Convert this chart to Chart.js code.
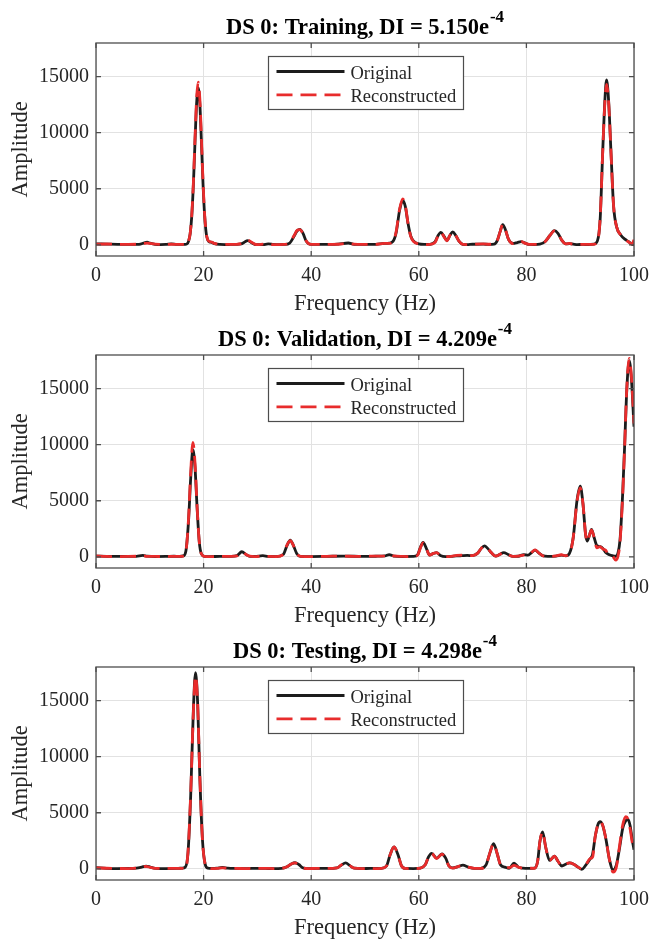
<!DOCTYPE html>
<html>
<head>
<meta charset="utf-8">
<script src="https://cdn.jsdelivr.net/npm/chart.js@4.4.0/dist/chart.umd.min.js"></script>
<style>
  html, body { margin: 0; padding: 0; background: #fff; }
  #wrap { position: relative; width: 650px; height: 941px; overflow: hidden; }
  #wrap canvas { position: absolute; left: 0; }
</style>
</head>
<body>
<div id="wrap">
  <canvas id="dsTrain" width="650" height="317" style="top:0px"></canvas>
  <canvas id="dsVal" width="650" height="317" style="top:312px"></canvas>
  <canvas id="dsTest" width="650" height="317" style="top:624px"></canvas>
</div>
<script>
// axis ticks
const xTicks = [0, 20, 40, 60, 80, 100];
const yTicks = [0, 5000, 10000, 15000];

// panel titles: set name + damage index mantissa (all x 10^-4)
const setNames = ['Training', 'Validation', 'Testing'];
const diValues = ['5.150', '4.209', '4.298'];
const diExponent = '-4';

// training spectrum
const trainFreq = [
  0, 2, 4, 6, 8, 9, 9.5, 10, 11, 12,
  13, 14, 15, 16, 16.5, 16.9, 17.2, 17.5, 17.8, 18.1,
  18.4, 18.7, 19, 19.3, 19.6, 19.9, 20.2, 20.5, 20.8, 21.1,
  21.5, 22, 23, 24, 25, 26, 27, 27.5, 28.2, 29,
  29.5, 30, 31, 32, 33, 34, 35, 36, 36.8, 37.4,
  37.9, 38.5, 39, 39.5, 40, 42, 44, 45, 46.9, 48,
  50, 52, 53.5, 54.5, 55.2, 55.8, 56.4, 57, 57.5, 58,
  58.5, 59, 60, 61, 62, 63, 63.5, 64.1, 64.7, 65.2,
  65.8, 66.3, 66.9, 67.5, 68.2, 69, 70, 72, 73, 74,
  74.6, 75.1, 75.6, 76.1, 76.7, 77.5, 78.3, 79, 79.8, 80.5,
  81.5, 82.5, 83.5, 84.4, 85.2, 85.9, 86.6, 87.3, 88, 88.7,
  89.5, 90.5, 91.5, 92.5, 93.2, 93.7, 94.2, 94.6, 94.9, 95.3,
  95.7, 96.2, 96.8, 97.5, 98.3, 99, 99.6, 100
];
const trainOrig = [
  80, 60, 40, 30, 40, 180, 230, 150, 40, 20,
  30, 80, 40, 30, 40, 80, 310, 970, 2550, 5360,
  9140, 12590, 14000, 12590, 9140, 5360, 2550, 970, 400, 250,
  220, 100, 30, 20, 30, 40, 80, 200, 380, 150,
  40, 20, 10, 80, 40, 20, 30, 150, 750, 1250,
  1380, 1000, 400, 100, 40, 40, 30, 60, 160, 40,
  30, 40, 120, 150, 300, 1100, 3000, 3950, 3400, 1900,
  800, 350, 80, 30, 40, 250, 750, 1100, 750, 380,
  850, 1160, 800, 300, 40, 10, 50, 60, 40, 60,
  400, 1150, 1800, 1350, 450, 120, 200, 280, 150, 30,
  20, 60, 300, 850, 1260, 1000, 400, 80, 100, 60,
  20, 30, 20, 50, 350, 2200, 8500, 13000, 14700, 12700,
  8500, 3500, 1550, 900, 500, 280, 40, 0
];
const trainRecon = [
  60, 70, 40, 40, 60, 120, 150, 120, 60, 40,
  30, 50, 40, 30, 20, -50, 320, 1000, 2640, 5550,
  9470, 13040, 14500, 13040, 9470, 5550, 2640, 1000, 420, 300,
  250, 120, 40, 30, 30, 40, 100, 200, 400, 200,
  60, 10, 50, 90, 20, 20, 30, 200, 800, 1300,
  1350, 950, 400, 100, 40, 40, 40, 50, 120, 60,
  40, 30, 120, 130, 250, 1200, 3100, 4100, 3500, 1900,
  750, 300, 80, 20, 40, 200, 700, 1150, 700, 360,
  850, 1150, 800, 300, 30, 20, 40, 80, 50, 50,
  400, 1150, 1800, 1350, 450, 100, 200, 300, 120, 40,
  30, 60, 300, 850, 1250, 1000, 400, 80, 120, 40,
  40, 30, 30, 40, 300, 2300, 8500, 12800, 14300, 12600,
  8500, 3500, 1550, 900, 500, 250, 60, 450
];

// validation spectrum
const valFreq = [
  0, 2, 4, 6, 7.5, 8.7, 9.5, 11, 13, 14.5,
  15.5, 16.2, 16.7, 17.2, 17.6, 18, 18.4, 18.8, 19.2, 19.6,
  20.2, 21, 23, 25, 26.2, 27.1, 27.9, 28.6, 29.5, 31,
  32, 33.5, 34.8, 35.5, 36.1, 36.7, 37.3, 38, 40, 42,
  44, 46, 48, 50, 52, 53.7, 54.5, 55.3, 57, 59,
  59.8, 60.3, 60.8, 61.4, 62, 62.7, 63.3, 64, 65, 66,
  67, 68, 69, 70, 71, 71.6, 72.2, 72.8, 73.5, 74.3,
  75, 75.8, 76.6, 77.5, 78.5, 79.5, 80.3, 81, 81.6, 82.3,
  83, 84, 85.5, 86.5, 87.3, 88, 88.7, 89.4, 90, 90.5,
  91, 91.3, 91.7, 92.1, 92.6, 93.1, 93.7, 94.2, 94.7, 95.3,
  96, 96.6, 97, 97.4, 97.9, 98.3, 98.6, 99.1, 99.5, 100
];
const valOrig = [
  60, 40, 30, 30, 40, 120, 60, 20, 30, 50,
  40, 80, 500, 3200, 7000, 9550, 8000, 4300, 1300, 250,
  40, 20, 30, 40, 100, 450, 200, 40, 30, 100,
  30, 20, 200, 1000, 1480, 1000, 300, 40, 20, 30,
  50, 60, 50, 30, 50, 80, 200, 60, 20, 30,
  200, 850, 1280, 750, 150, 300, 380, 120, 20, 40,
  80, 100, 120, 100, 350, 750, 980, 750, 350, 60,
  200, 380, 200, 40, 50, 200, 150, 400, 600, 350,
  100, 40, 60, 150, 80, 300, 1700, 5000, 6300, 4800,
  2000, 1400, 1900, 2450, 1700, 1000, 900, 750, 400, 200,
  100, 50, 300, 1500, 5700, 10400, 14300, 17500, 16000, 11600
];
const valRecon = [
  80, 30, 20, 30, 50, 80, 40, 30, 20, 40,
  30, 60, 450, 3400, 7500, 10200, 8400, 4400, 1300, 250,
  40, 20, 30, 40, 80, 420, 200, 50, 20, 60,
  30, 20, 200, 1050, 1450, 1000, 300, 40, 20, 30,
  60, 60, 40, 50, 60, 80, 230, 80, 30, 20,
  150, 800, 1250, 750, 150, 300, 380, 100, 20, 40,
  120, 150, 150, 100, 350, 750, 950, 750, 350, 60,
  200, 380, 200, 40, 60, 150, 100, 400, 620, 350,
  100, 30, 80, 180, 100, 250, 1700, 4900, 6150, 4800,
  2000, 1350, 1900, 2400, 1700, 800, 900, 700, 600, 150,
  50, -300, 0, 1300, 5500, 10300, 14400, 17700, 16200, 11900
];

// testing spectrum
const testFreq = [
  0, 2, 4, 6, 7.5, 8.5, 9.3, 10.1, 11, 13,
  15, 16, 16.6, 17.1, 17.6, 18.1, 18.5, 18.9, 19.3, 19.8,
  20.3, 20.8, 21.5, 22.5, 23.5, 24.5, 26, 28, 30, 31.5,
  33, 34.5, 35.5, 36.3, 37, 37.7, 38.4, 39.5, 41, 43,
  44.8, 45.6, 46.4, 47.2, 48, 49.5, 51, 53, 54, 54.7,
  55.4, 56.1, 56.8, 57.5, 59, 60.3, 61.2, 61.8, 62.4, 63.3,
  64.3, 65, 65.6, 66.3, 67.3, 68.2, 69.2, 70.3, 71.5, 72.5,
  73.2, 73.9, 74.6, 75.2, 76, 76.8, 77.7, 78.5, 79.3, 80.5,
  81.5, 82.1, 82.5, 83, 83.6, 84.3, 85.2, 85.9, 86.6, 87.3,
  88, 88.8, 89.6, 90.3, 91, 91.8, 92.3, 92.8, 93.3, 93.7,
  94.2, 94.8, 95.4, 96.1, 96.7, 97.3, 97.9, 98.5, 98.9, 99.3,
  99.7, 100
];
const testOrig = [
  100, 40, 20, 30, 60, 150, 240, 150, 40, 20,
  30, 60, 150, 1400, 6500, 14200, 17500, 14700, 8200, 2500,
  400, 60, 30, 60, 130, 50, 30, 20, 40, 30,
  20, 40, 180, 430, 540, 380, 100, 20, 30, 30,
  80, 330, 530, 280, 60, 20, 30, 40, 250, 1300,
  1950, 1300, 250, 30, 20, 60, 350, 1050, 1380, 950,
  1320, 950, 250, 80, 200, 320, 150, 40, 40, 350,
  1400, 2250, 1300, 350, 150, 50, 500, 150, 60, 40,
  60, 700, 2400, 3280, 1900, 750, 1120, 650, 250, 400,
  520, 400, 150, -50, 300, 850, 1300, 2900, 3950, 4200,
  3850, 2600, 900, -100, 300, 1800, 3600, 4300, 4400, 3800,
  2500, 1700
];
const testRecon = [
  80, 50, 30, 20, 60, 150, 220, 120, 40, 30,
  30, 40, -50, 1500, 6700, 14000, 17200, 14700, 8200, 2500,
  400, 70, 20, 40, 80, 40, 30, 20, 40, 40,
  20, 40, 180, 430, 520, 330, 100, 20, 30, 30,
  80, 350, 520, 280, 60, 20, 20, 40, 250, 1300,
  1950, 1300, 250, 30, 20, 60, 350, 1050, 1380, 900,
  1300, 900, 250, 60, 200, 300, 150, 40, 40, 350,
  1400, 2250, 1300, 350, 200, 100, 300, 150, 50, 60,
  40, 700, 2400, 3280, 1900, 750, 1120, 650, 250, 400,
  520, 400, 150, 0, 300, 900, 1050, 2900, 3950, 4200,
  3850, 2600, 900, -300, 100, 2000, 3900, 4640, 4400, 3500,
  2300, 2100
];

const serif = "'Liberation Serif', 'Times New Roman', serif";
const axisColor = '#4d4d4d';
const textColor = '#262626';
const gridColor = '#e2e2e2';

// bold title with a raised exponent, centred over the plot area
const titlePlugin = {
  id: 'dsTitle',
  afterDraw(chart, args, opts) {
    const {ctx, chartArea: a} = chart;
    ctx.save();
    ctx.fillStyle = '#000';
    ctx.textAlign = 'left';
    ctx.textBaseline = 'alphabetic';
    ctx.font = `bold 22.5px ${serif}`;
    const w1 = ctx.measureText(opts.text).width;
    ctx.font = `bold 17px ${serif}`;
    const w2 = ctx.measureText(opts.exponent).width;
    const x0 = (a.left + a.right) / 2 - (w1 + 1 + w2) / 2;
    ctx.font = `bold 22.5px ${serif}`;
    ctx.fillText(opts.text, x0, a.top - 9.5);
    ctx.font = `bold 17px ${serif}`;
    ctx.fillText(opts.exponent, x0 + w1 + 1, a.top - 21);
    ctx.restore();
  }
};

// closed axes box with inward tick marks
const framePlugin = {
  id: 'dsFrame',
  afterDatasetsDraw(chart) {
    const {ctx, chartArea: a, scales: {x, y}} = chart;
    ctx.save();
    ctx.strokeStyle = axisColor;
    ctx.lineWidth = 1.3;
    ctx.strokeRect(a.left, a.top, a.right - a.left, a.bottom - a.top);
    ctx.beginPath();
    xTicks.forEach(v => {
      const px = x.getPixelForValue(v);
      ctx.moveTo(px, a.bottom); ctx.lineTo(px, a.bottom - 5);
      ctx.moveTo(px, a.top); ctx.lineTo(px, a.top + 5);
    });
    yTicks.forEach(v => {
      const py = y.getPixelForValue(v);
      ctx.moveTo(a.left, py); ctx.lineTo(a.left + 5, py);
      ctx.moveTo(a.right, py); ctx.lineTo(a.right - 5, py);
    });
    ctx.stroke();
    ctx.restore();
  }
};

// boxed legend at the top centre of the axes
const legendPlugin = {
  id: 'dsLegend',
  afterDraw(chart) {
    const {ctx, chartArea: a} = chart;
    const bw = 195, bh = 53;
    const bx = Math.round((a.left + a.right) / 2 - bw / 2) + 0.5;
    const by = Math.round(a.top + 13) + 0.5;
    ctx.save();
    ctx.fillStyle = '#fff';
    ctx.fillRect(bx, by, bw, bh);
    ctx.strokeStyle = axisColor;
    ctx.lineWidth = 1.2;
    ctx.strokeRect(bx, by, bw, bh);
    chart.data.datasets.forEach((ds, i) => {
      const ly = by + 15 + i * 23.3;
      ctx.strokeStyle = ds.borderColor;
      ctx.lineWidth = ds.borderWidth;
      ctx.setLineDash(ds.borderDash || []);
      ctx.beginPath();
      ctx.moveTo(bx + 8, ly);
      ctx.lineTo(bx + 76, ly);
      ctx.stroke();
      ctx.setLineDash([]);
      ctx.fillStyle = textColor;
      ctx.font = `18.5px ${serif}`;
      ctx.textAlign = 'left';
      ctx.textBaseline = 'alphabetic';
      ctx.fillText(ds.label, bx + 82, ly + 7.3);
    });
    ctx.restore();
  }
};

// keep the plot box fixed: no automatic room for edge tick labels
const noEdgePadding = s => {
  s.paddingLeft = 0; s.paddingRight = 0; s.paddingTop = 0; s.paddingBottom = 0;
};

function makePanel(id, freq, orig, recon, setName, di) {
  const pts = arr => freq.map((f, i) => ({x: f, y: arr[i]}));
  return new Chart(document.getElementById(id), {
    type: 'line',
    data: {
      datasets: [
        {label: 'Original', data: pts(orig), borderColor: '#1c1c1c', borderWidth: 2.8, order: 2},
        {label: 'Reconstructed', data: pts(recon), borderColor: 'rgb(232, 44, 44)', borderWidth: 2.8,
         borderDash: [16, 8], order: 1}
      ]
    },
    options: {
      responsive: false,
      animation: false,
      devicePixelRatio: 1,
      layout: {padding: {left: 0, right: 16, top: 43, bottom: 2}},
      elements: {
        point: {radius: 0},
        line: {cubicInterpolationMode: 'monotone', fill: false, borderJoinStyle: 'round'}
      },
      plugins: {
        legend: {display: false},
        tooltip: {enabled: false},
        dsTitle: {text: `DS 0: ${setName}, DI = ${di}e`, exponent: diExponent}
      },
      scales: {
        x: {
          type: 'linear', min: 0, max: 100,
          afterBuildTicks: s => { s.ticks = xTicks.map(v => ({value: v})); },
          afterFit: s => { s.height = 59; noEdgePadding(s); },
          grid: {color: gridColor, lineWidth: 1, drawTicks: false},
          border: {display: false},
          ticks: {padding: 8, color: textColor, maxRotation: 0, font: {family: serif, size: 20},
                  callback: v => String(v)},
          title: {display: true, text: 'Frequency (Hz)', color: textColor, padding: 0,
                  font: {family: serif, size: 22.5, lineHeight: 1}}
        },
        y: {
          type: 'linear', min: -1000, max: 18000,
          afterBuildTicks: s => { s.ticks = yTicks.map(v => ({value: v})); },
          afterFit: s => { s.width = 96; noEdgePadding(s); },
          grid: {color: gridColor, lineWidth: 1, drawTicks: false},
          border: {display: false},
          ticks: {padding: 7, color: textColor, font: {family: serif, size: 20},
                  callback: v => String(v)},
          title: {display: true, text: 'Amplitude', color: textColor, padding: {top: 10, bottom: 0},
                  font: {family: serif, size: 22.5, lineHeight: 1}}
        }
      }
    },
    plugins: [titlePlugin, framePlugin, legendPlugin]
  });
}

makePanel('dsTrain', trainFreq, trainOrig, trainRecon, setNames[0], diValues[0]);
makePanel('dsVal', valFreq, valOrig, valRecon, setNames[1], diValues[1]);
makePanel('dsTest', testFreq, testOrig, testRecon, setNames[2], diValues[2]);
</script>
</body>
</html>
